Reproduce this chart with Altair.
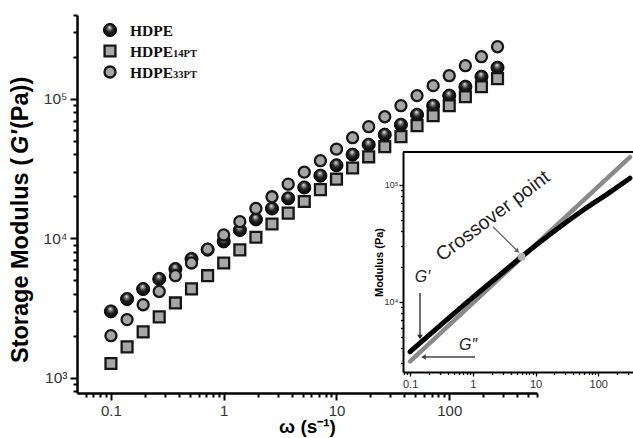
import altair as alt
import pandas as pd

# ---------------- data ----------------
omega = [0.1, 0.139, 0.193, 0.268, 0.373, 0.518, 0.72, 1.0, 1.39, 1.93, 2.68, 3.73,
         5.18, 7.2, 10.0, 13.9, 19.3, 26.8, 37.3, 51.8, 72.0, 100.0, 139.0, 193.0, 268.0]
hdpe = [3000, 3680, 4340, 5130, 6040, 7130, 8310, 9530, 11500, 13700, 16400, 19400,
        23200, 28200, 33500, 39900, 47000, 55500, 65400, 77100, 89500, 105700, 122500,
        144500, 167500]
hdpe14pt = [1270, 1670, 2140, 2740, 3450, 4350, 5410, 6670, 8280, 10200, 12700, 15200,
            18400, 22400, 26600, 32000, 38500, 45500, 53700, 64400, 75900, 89500, 103800,
            122400, 139900]
hdpe33pt = [2010, 2620, 3350, 4170, 5410, 6670, 8370, 10600, 13200, 16400, 19900, 24500,
            29900, 36100, 43700, 52800, 63300, 74600, 89500, 105700, 124600, 146900,
            173300, 201000, 237000]

# inset curves
g1_omega = [0.1, 0.3, 1, 3, 6, 20, 60, 150, 320]
g1_mod = [3745, 6250, 10900, 17800, 24300, 40300, 61800, 85900, 114000]
g2_omega = [0.1, 320]
g2_mod = [3100, 172600]
cross_omega = [6.0]
cross_mod = [24300]

# axes
main_x_domain = [0.05, 600]
main_y_domain = [780, 400000]
main_x_ticks = [0.06, 0.07, 0.08, 0.09, 0.1, 0.2, 0.3, 0.4, 0.5, 0.6, 0.7, 0.8, 0.9,
                1, 2, 3, 4, 5, 6, 7, 8, 9, 10, 20, 30, 40, 50, 60, 70, 80, 90,
                100, 200, 300, 400, 500, 600]
main_y_ticks = [800, 900, 1000, 2000, 3000, 4000, 5000, 6000, 7000, 8000, 9000,
                10000, 20000, 30000, 40000, 50000, 60000, 70000, 80000, 90000,
                100000, 200000, 300000, 400000]
inset_x_domain = [0.077, 358]
inset_y_domain = [2510, 191000]
inset_x_ticks = [0.08, 0.09, 0.1, 0.2, 0.3, 0.4, 0.5, 0.6, 0.7, 0.8, 0.9,
                 1, 2, 3, 4, 5, 6, 7, 8, 9, 10, 20, 30, 40, 50, 60, 70, 80, 90,
                 100, 200, 300]
inset_y_ticks = [3000, 4000, 5000, 6000, 7000, 8000, 9000, 10000, 20000, 30000,
                 40000, 50000, 60000, 70000, 80000, 90000, 100000]

series_names = ["HDPE", "HDPE14PT", "HDPE33PT"]

# ---------------- styles ----------------
FONT = "Liberation Sans"
SERIF = "Liberation Serif"
GRAY = "#a6a6a6"
EDGE = "#161616"
sphere_fill = {
    "gradient": "radial",
    "x1": 0.45, "y1": 0.28, "r1": 0.0,
    "x2": 0.5, "y2": 0.5, "r2": 0.55,
    "stops": [
        {"offset": 0.0, "color": "#ffffff"},
        {"offset": 0.18, "color": "#9a9a9a"},
        {"offset": 0.5, "color": "#222222"},
        {"offset": 1.0, "color": "#000000"},
    ],
}

main_x_label = ("datum.value == 0.1 ? '0.1' : datum.value == 1 ? '1' : "
                "datum.value == 10 ? '10' : datum.value == 100 ? '100' : ''")
main_y_label = ("datum.value == 1000 ? '10³' : datum.value == 10000 ? '10⁴' : "
                "datum.value == 100000 ? '10⁵' : ''")

x_main = alt.X(
    "omega:Q",
    scale=alt.Scale(type="log", domain=main_x_domain, range=[0, 460]),
    axis=alt.Axis(
        orient="bottom", values=main_x_ticks, labelExpr=main_x_label,
        tickSize={"condition": {"test": "indexof([0.1,1,10,100], datum.value) >= 0",
                                "value": 7}, "value": 4},
        tickWidth=2, tickColor="black", domainColor="black", domainWidth=2.5,
        labelFont=FONT, labelFontSize=15, labelColor="#333333", labelPadding=3,
        labelFlush=False, labelOverlap=False, grid=False,
        title="ω (s⁻¹)", titleFont=FONT, titleFontSize=19, titleFontWeight="bold",
        titleColor="black", titlePadding=-1,
    ),
)
y_main = alt.Y(
    "G:Q",
    scale=alt.Scale(type="log", domain=main_y_domain),
    axis=alt.Axis(
        orient="left", values=main_y_ticks, labelExpr=main_y_label,
        tickSize={"condition": {"test": "indexof([1000,10000,100000], datum.value) >= 0",
                                "value": 7}, "value": 4},
        tickWidth=2, tickColor="black", domainColor="black", domainWidth=2.5,
        labelFont=FONT, labelFontSize=15.5, labelColor="#333333", labelPadding=3,
        labelFlush=False, labelOverlap=False, grid=False, title=None,
    ),
)

df_hdpe = pd.DataFrame({"omega": omega, "G": hdpe})
df_14 = pd.DataFrame({"omega": omega, "G": hdpe14pt})
df_33 = pd.DataFrame({"omega": omega, "G": hdpe33pt})

spheres = alt.Chart(df_hdpe).mark_point(
    shape="circle", filled=True, fill=sphere_fill, stroke="black", strokeWidth=1,
    size=170, opacity=1
).encode(x=x_main, y=y_main)
squares = alt.Chart(df_14).mark_point(
    shape="square", filled=True, fill=GRAY, stroke=EDGE, strokeWidth=2.3,
    size=118, opacity=1
).encode(x=x_main, y=y_main)
circles = alt.Chart(df_33).mark_point(
    shape="circle", filled=True, fill=GRAY, stroke=EDGE, strokeWidth=2.3,
    size=122, opacity=1
).encode(x=x_main, y=y_main)

# ---------------- legend (top-left) ----------------
leg_sym_x = 33
leg_rows_y = [15, 36, 57]
leg_text_x = 53
leg = []
leg.append(alt.Chart(pd.DataFrame({"s": [series_names[0]]})).mark_point(
    shape="circle", filled=True, fill=sphere_fill, stroke="black", strokeWidth=1,
    size=170, opacity=1).encode(x=alt.value(leg_sym_x), y=alt.value(leg_rows_y[0])))
leg.append(alt.Chart(pd.DataFrame({"s": [series_names[1]]})).mark_point(
    shape="square", filled=True, fill=GRAY, stroke=EDGE, strokeWidth=2.3,
    size=118, opacity=1).encode(x=alt.value(leg_sym_x), y=alt.value(leg_rows_y[1])))
leg.append(alt.Chart(pd.DataFrame({"s": [series_names[2]]})).mark_point(
    shape="circle", filled=True, fill=GRAY, stroke=EDGE, strokeWidth=2.3,
    size=122, opacity=1).encode(x=alt.value(leg_sym_x), y=alt.value(leg_rows_y[2])))
for i, name in enumerate(series_names):
    base = name[:4]
    sub = name[4:]
    leg.append(alt.Chart(pd.DataFrame({"t": [base]})).mark_text(
        font=SERIF, fontWeight="bold", fontSize=15.5, align="left",
        baseline="alphabetic", color="#111111"
    ).encode(x=alt.value(leg_text_x), y=alt.value(leg_rows_y[i] + 5.5), text="t:N"))
    if sub:
        leg.append(alt.Chart(pd.DataFrame({"t": [sub]})).mark_text(
            font=SERIF, fontWeight="bold", fontSize=10.5, align="left",
            baseline="alphabetic", color="#111111"
        ).encode(x=alt.value(leg_text_x + 43), y=alt.value(leg_rows_y[i] + 5.5), text="t:N"))

# ---------------- y-axis title with italic G' ----------------
ytitle_parts = [("Storage Modulus (", "normal", 348),
                ("G′", "italic", 139),
                ("(Pa))", "normal", 114)]
ytitle = []
for txt, style, ypos in ytitle_parts:
    ytitle.append(alt.Chart(pd.DataFrame({"t": [txt]})).mark_text(
        font=FONT, fontWeight="bold", fontStyle=style, fontSize=23.5, angle=270,
        align="left", baseline="middle", color="black"
    ).encode(x=alt.value(-56), y=alt.value(ypos), text="t:N"))

main = alt.layer(spheres, squares, circles, *leg, *ytitle)

# ---------------- inset ----------------
inset_x_label = ("datum.value == 0.1 ? '0.1' : datum.value == 1 ? '1' : "
                 "datum.value == 10 ? '10' : datum.value == 100 ? '100' : ''")
inset_y_label = "datum.value == 10000 ? '10⁴' : datum.value == 100000 ? '10⁵' : ''"

x_in_scale = alt.Scale(type="log", domain=inset_x_domain, range=[326, 556])
y_in_scale = alt.Scale(type="log", domain=inset_y_domain, range=[357, 137])
x_in_axis = alt.Axis(
    orient="bottom", offset=-21, values=inset_x_ticks, labelExpr=inset_x_label,
    tickSize={"condition": {"test": "indexof([0.1,1,10,100], datum.value) >= 0",
                            "value": 4}, "value": 2.5},
    tickWidth=1.3, tickColor="black", domainColor="black", domainWidth=2,
    labelFont=FONT, labelFontSize=11, labelColor="#333333", labelPadding=2,
    labelFlush=False, labelOverlap=False, grid=False, title=None,
)
y_in_axis = alt.Axis(
    orient="left", offset=-326, values=inset_y_ticks, labelExpr=inset_y_label,
    tickSize={"condition": {"test": "indexof([10000,100000], datum.value) >= 0",
                            "value": 4}, "value": 2.5},
    tickWidth=1.3, tickColor="black", domainColor="black", domainWidth=2,
    labelFont=FONT, labelFontSize=9, labelColor="#333333", labelPadding=1,
    labelFlush=False, labelOverlap=False, grid=False,
    title="Modulus (Pa)", titleFont=FONT, titleFontSize=11, titleFontWeight="bold",
    titleColor="black", titlePadding=0,
)

def xi(field):
    return alt.X(field, type="quantitative", scale=x_in_scale, axis=x_in_axis)

def yi(field):
    return alt.Y(field, type="quantitative", scale=y_in_scale, axis=y_in_axis)

frame = alt.Chart(pd.DataFrame({"x": [inset_x_domain[0]], "x2": [inset_x_domain[1]],
                                "y": [inset_y_domain[1]]})).mark_rule(
    color="black", strokeWidth=2
).encode(x=xi("x"), x2="x2:Q", y=yi("y"))

g2_line = alt.Chart(pd.DataFrame({"w": g2_omega, "m": g2_mod})).mark_line(
    color="#8a8a8a", strokeWidth=4.5, strokeCap="round"
).encode(x=xi("w"), y=yi("m"))
g1_line = alt.Chart(pd.DataFrame({"w": g1_omega, "m": g1_mod})).mark_line(
    color="black", strokeWidth=5, strokeCap="round", interpolate="monotone"
).encode(x=xi("w"), y=yi("m"))
cross_pt = alt.Chart(pd.DataFrame({"w": cross_omega, "m": cross_mod})).mark_point(
    shape="circle", filled=True, fill="#b3b3b3", size=60, opacity=1, strokeWidth=0
).encode(x=xi("w"), y=yi("m"))

# annotations (placed in the inset's data coordinates)
def seg(x1, y1, x2, y2, color):
    return alt.Chart(pd.DataFrame({"w": [x1, x2], "m": [y1, y2]})).mark_line(
        color=color, strokeWidth=1.3
    ).encode(x=xi("w"), y=yi("m"))

def head(x, y, shape, color, angle=0):
    return alt.Chart(pd.DataFrame({"w": [x], "m": [y]})).mark_point(
        shape=shape, filled=True, fill=color, size=30, opacity=1, strokeWidth=0,
        angle=angle
    ).encode(x=xi("w"), y=yi("m"))

def label(x, y, txt, size, style="normal", angle=0):
    return alt.Chart(pd.DataFrame({"w": [x], "m": [y], "t": [txt]})).mark_text(
        font=FONT, fontSize=size, fontStyle=style, angle=angle, align="center",
        baseline="middle", color="#222222"
    ).encode(x=xi("w"), y=yi("m"), text="t:N")

ann = [
    seg(0.1437, 11890, 0.1437, 5100, "#222222"),
    head(0.1437, 5000, "triangle-down", "#222222"),
    label(0.158, 16300, "G′", 16, "italic"),
    seg(1.082, 3373, 0.17, 3373, "#444444"),
    head(0.163, 3373, "triangle-left", "#444444"),
    label(0.837, 4300, "G″", 16, "italic"),
    seg(2.096, 43860, 5.0, 27600, "#666666"),
    head(5.05, 27400, "triangle", "#666666", 135),
    label(2.1, 54150, "Crossover point", 19.5, "normal", 323),
]

inset = alt.layer(frame, g2_line, g1_line, cross_pt, *ann)

chart = alt.layer(main, inset).resolve_scale(
    x="independent", y="independent"
).properties(
    width=556, height=378, autosize="none",
    padding={"left": 77, "top": 15, "right": 0, "bottom": 45},
    background="white",
).configure_view(stroke=None)

chart.save("out.html", embed_options={"renderer": "svg", "actions": False})
